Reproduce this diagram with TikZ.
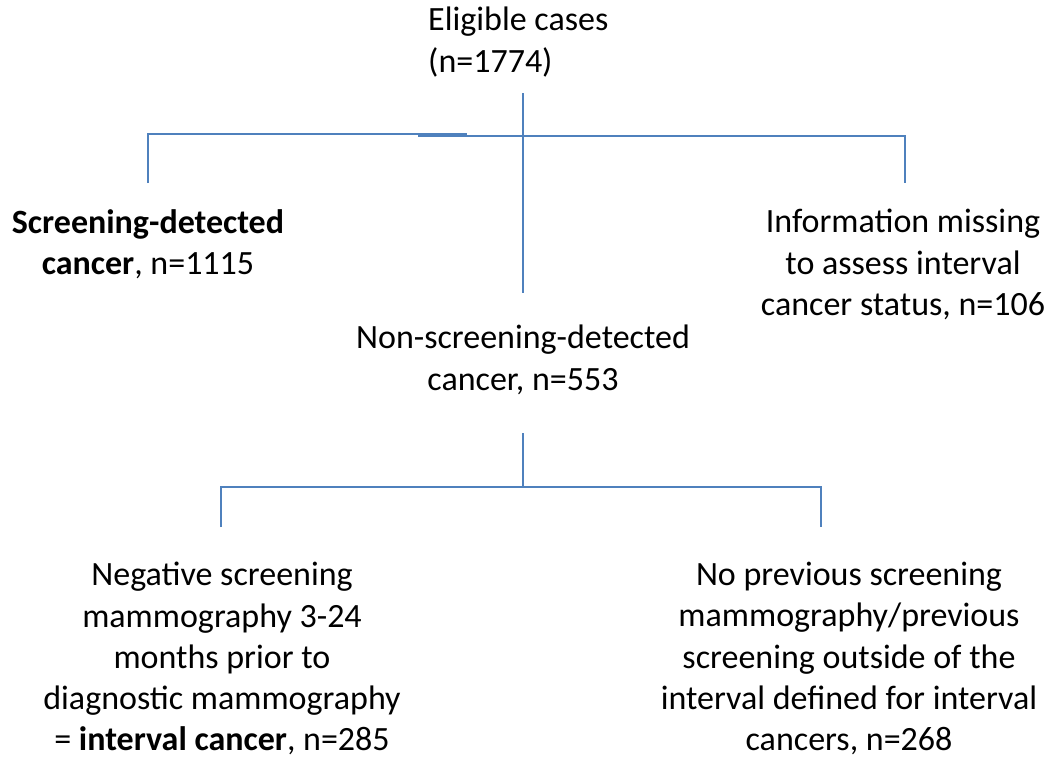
\documentclass[tikz,border=0pt]{standalone}
\usepackage{fontspec}
\setmainfont{Carlito}
\usetikzlibrary{calc,positioning}
\definecolor{linkblue}{RGB}{79,129,189}

\begin{document}
\begin{tikzpicture}[x=1pt,y=-1pt,
  box/.style={align=center,anchor=north,inner sep=0pt,font=\fontsize{34}{41.3}\selectfont},
  link/.style={draw=linkblue,line width=1.5pt}]
\useasboundingbox (0,0) rectangle (1051,760);

\node[box,align=left,anchor=north west] (eligible) at (428,7) {Eligible cases\\(n=1774)};
\node[box] (screen) at (148,209) {\textbf{Screening-detected}\\\textbf{cancer}, n=1115};
\node[box] (missing) at (903,209) {Information missing\\to assess interval\\cancer status, n=106};
\node[box] (nonscreen) at (523,325) {Non-screening-detected\\cancer, n=553};
\node[box] (interval) at (222,562) {Negative screening\\mammography 3-24\\months prior to\\diagnostic mammography\\= \textbf{interval cancer}, n=285};
\node[box] (noprev) at (849,562) {No previous screening\\mammography/previous\\screening outside of the\\interval defined for interval\\cancers, n=268};

% branch points
\coordinate (top) at (523,93);
\coordinate (midtop) at (523,293);
\coordinate (leftdrop) at (148,183);
\coordinate (rightdrop) at (905,183);
\coordinate (lowtop) at (523,433);
\coordinate (lowhub) at (523,487);
\coordinate (lowleft) at (221,527);
\coordinate (lowright) at (821,527);

\draw[link] (top) -- (midtop);
\draw[link] (leftdrop) -- (leftdrop |- 0,134) -- (467,134);
\draw[link] (418,136) -- (rightdrop |- 0,136) -- (rightdrop);
\draw[link] (lowtop) -- (lowhub);
\draw[link] (lowleft) -- (lowleft |- lowhub) -- (lowright |- lowhub) -- (lowright);

\end{tikzpicture}
\end{document}
